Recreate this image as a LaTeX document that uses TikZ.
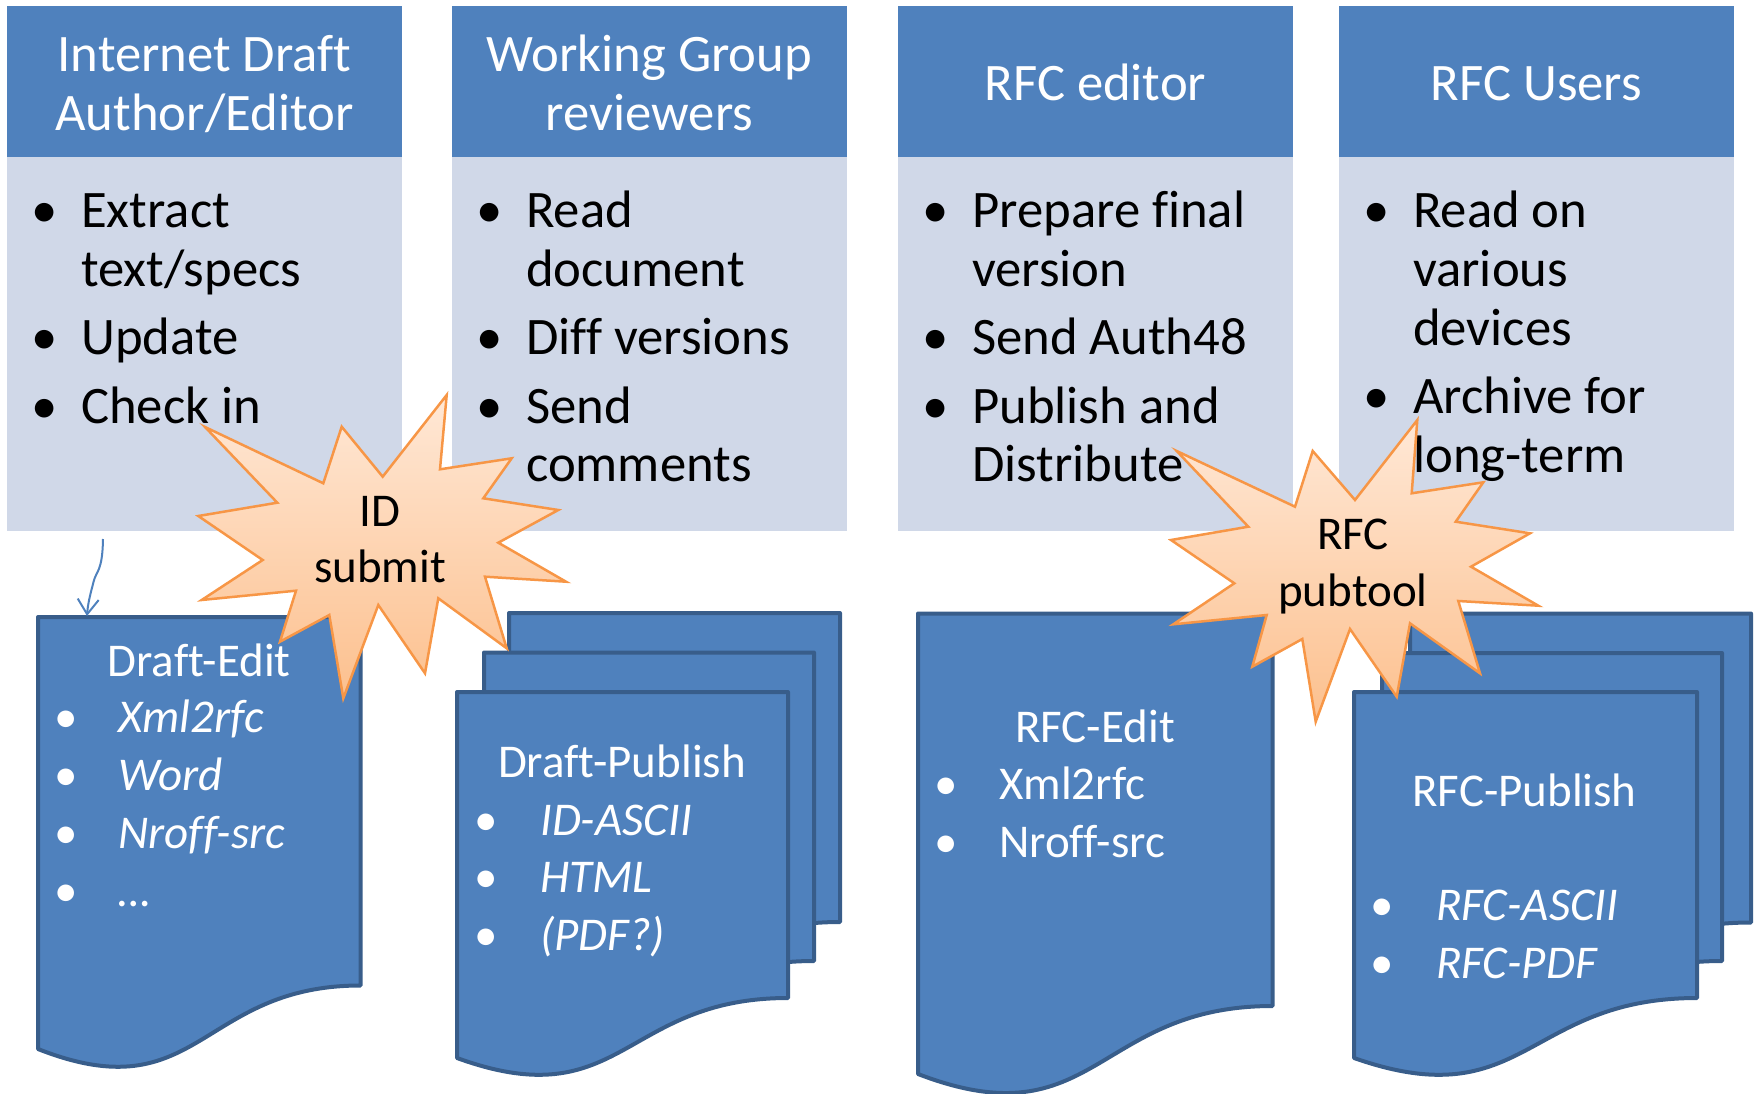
\documentclass[tikz,border=0pt]{standalone}
\usepackage{fontspec}
\setmainfont{Carlito}[Ligatures=NoCommon]
\usetikzlibrary{arrows.meta}
\definecolor{hdrblue}{RGB}{79,129,189}
\definecolor{bodyblue}{RGB}{208,216,232}
\definecolor{docedge}{RGB}{56,93,138}
\definecolor{startop}{RGB}{255,232,214}
\definecolor{starbot}{RGB}{252,192,142}
\definecolor{staredge}{RGB}{247,150,70}
\newcommand\myBig{\fontsize{52.7pt}{60pt}\selectfont}
\newcommand\myDoc{\fontsize{47pt}{56pt}\selectfont}
\newcommand\mydocpage[5]{%
  \path[docpg] (#1,#2) -- (#3,#2) -- (#3,#4)
    .. controls ({(#1+#3)/2},#4) and ({(#1+#3)/2},{#4+2.0*(#5-#4)}) .. (#1,#5) -- cycle;}
\begin{document}
\begin{tikzpicture}[x=1pt,y=-1pt,
  hdrbox/.style={fill=hdrblue,inner sep=0pt,anchor=north west,minimum width=395pt,minimum height=151pt},
  bodybox/.style={fill=bodyblue,inner sep=0pt,anchor=north west,minimum width=395pt,minimum height=374pt},
  hdrtext/.style={text=white,font=\myBig,anchor=base,inner sep=0pt},
  bodytext/.style={text=black,font=\myBig,anchor=base west,inner sep=0pt},
  bul/.style={font=\myBig,anchor=base,inner sep=0pt},
  docpg/.style={fill=hdrblue,draw=docedge,line width=4pt,line join=round},
  doctitle/.style={text=white,font=\myDoc,anchor=base,inner sep=0pt},
  doctext/.style={text=white,font=\myDoc,anchor=base west,inner sep=0pt},
  docbul/.style={text=white,font=\myDoc,anchor=base,inner sep=0pt},
  starsty/.style={top color=startop,bottom color=starbot,draw=staredge,line width=2.5pt,line join=miter},
  startext/.style={text=black,font=\myDoc,anchor=base,inner sep=0pt},
  arrsty/.style={draw=hdrblue,line width=2pt,-{Straight Barb[length=15pt,width=21pt]}}
]
\useasboundingbox (0,0) rectangle (1756,1094);

% columns
\node[hdrbox] (h1) at (7,6) {};
\node[hdrbox] (h2) at (452,6) {};
\node[hdrbox] (h3) at (898,6) {};
\node[hdrbox] (h4) at (1339,6) {};
\node[bodybox] (b1) at (7,157) {};
\node[bodybox] (b2) at (452,157) {};
\node[bodybox] (b3) at (898,157) {};
\node[bodybox] (b4) at (1339,157) {};

% headers
\node[hdrtext] (h1a) at (204.5,71.5) {Internet Draft};
\node[hdrtext] (h1b) at (204.5,130.5) {Author/Editor};
\node[hdrtext] (h2a) at (649.5,71.5) {Working Group};
\node[hdrtext] (h2b) at (649.5,130.5) {reviewers};
\node[hdrtext] (h3a) at (1095.5,100.5) {RFC editor};
\node[hdrtext] (h4a) at (1536.5,100.5) {RFC Users};

% column 1
\node[bul] (c1b1) at (45,228) {•};
\node[bodytext] (c1t1) at (81,228) {Extract};
\node[bodytext] (c1t1b) at (81,286.5) {text/specs};
\node[bul] (c1b2) at (45,354.5) {•};
\node[bodytext] (c1t2) at (81,354.5) {Update};
\node[bul] (c1b3) at (45,423) {•};
\node[bodytext] (c1t3) at (81,423) {Check in};

% column 2
\node[bul] (c2b1) at (490,228) {•};
\node[bodytext] (c2t1) at (526,228) {Read};
\node[bodytext] (c2t1b) at (526,286.5) {document};
\node[bul] (c2b2) at (490,354.5) {•};
\node[bodytext] (c2t2) at (526,354.5) {Diff versions};
\node[bul] (c2b3) at (490,423) {•};
\node[bodytext] (c2t3) at (526,423) {Send};
\node[bodytext] (c2t3b) at (526,481.5) {comments};

% column 3
\node[bul] (c3b1) at (936,228) {•};
\node[bodytext] (c3t1) at (972,228) {Prepare final};
\node[bodytext] (c3t1b) at (972,286.5) {version};
\node[bul] (c3b2) at (936,354.5) {•};
\node[bodytext] (c3t2) at (972,354.5) {Send Auth48};
\node[bul] (c3b3) at (936,423) {•};
\node[bodytext] (c3t3) at (972,423) {Publish and};
\node[bodytext] (c3t3b) at (972,481.5) {Distribute};

% column 4
\node[bul] (c4b1) at (1377,228) {•};
\node[bodytext] (c4t1) at (1413,228) {Read on};
\node[bodytext] (c4t1b) at (1413,286.5) {various};
\node[bodytext] (c4t1c) at (1413,345) {devices};
\node[bul] (c4b2) at (1377,413.5) {•};
\node[bodytext] (c4t2) at (1413,413.5) {Archive for};
\node[bodytext] (c4t2b) at (1413,472) {long-term};

% documents
\mydocpage{38}{617}{360.5}{985.5}{1049}
\mydocpage{509}{613}{840}{922}{982}
\mydocpage{484}{652.5}{814}{961}{1021}
\mydocpage{457}{692}{788}{998}{1058}
\mydocpage{918}{613.5}{1272.5}{1006}{1074}
\mydocpage{1410}{613.5}{1751}{922.5}{983}
\mydocpage{1382}{653}{1722}{961}{1021}
\mydocpage{1354}{692}{1697}{998}{1058}

% Draft-Edit text
\node[doctitle] (de) at (199,676) {Draft-Edit};
\node[docbul] (deb1) at (66.5,732.5) {•};
\node[doctext] (det1) at (118,732.5) {\itshape Xml2rfc};
\node[docbul] (deb2) at (66.5,790) {•};
\node[doctext] (det2) at (118,790) {\itshape Word};
\node[docbul] (deb3) at (66.5,848.5) {•};
\node[doctext] (det3) at (118,848.5) {\itshape Nroff-src};
\node[docbul] (deb4) at (66.5,906) {•};
\node[doctext] (det4) at (118,906) {\itshape …};

% Draft-Publish text
\node[doctitle] (dp) at (622,777) {Draft-Publish};
\node[docbul] (dpb1) at (486.5,835) {•};
\node[doctext] (dpt1) at (540,835) {\itshape ID-ASCII};
\node[docbul] (dpb2) at (486.5,892) {•};
\node[doctext] (dpt2) at (540,892) {\itshape HTML};
\node[docbul] (dpb3) at (486.5,950) {•};
\node[doctext] (dpt3) at (540,950) {\itshape (PDF?)};

% RFC-Edit text
\node[doctitle] (re) at (1095,742) {RFC-Edit};
\node[docbul] (reb1) at (946,799.5) {•};
\node[doctext] (ret1) at (999,799.5) {Xml2rfc};
\node[docbul] (reb2) at (946,857) {•};
\node[doctext] (ret2) at (999,857) {Nroff-src};

% RFC-Publish text
\node[doctitle] (rp) at (1524.5,806.5) {RFC-Publish};
\node[docbul] (rpb1) at (1382,920.5) {•};
\node[doctext] (rpt1) at (1436,920.5) {\itshape RFC-ASCII};
\node[docbul] (rpb2) at (1382,978.5) {•};
\node[doctext] (rpt2) at (1436,978.5) {\itshape RFC-PDF};

% star 1
\shadedraw[starsty] (205,427) -- (323.3,483.3) -- (341.7,426.7) -- (382.7,476.7)
  -- (446.7,395) -- (440,469.3) -- (511.7,458.3) -- (483.3,498.3) -- (558.3,510)
  -- (498.3,542.7) -- (566,581.7) -- (485,576.7) -- (506.7,648.3) -- (438.3,598.3)
  -- (425,673.3) -- (378.3,605) -- (343.3,698.3) -- (329.3,615) -- (280,641.7)
  -- (296,590.7) -- (201.7,600) -- (262.7,560) -- (198.3,516) -- (277.3,502.7) -- cycle;
\node[startext] (s1a) at (380,526) {ID};
\node[startext] (s1b) at (380,582.7) {submit};

% star 2
\shadedraw[starsty] (1176.7,451) -- (1295,506.7) -- (1312.7,451) -- (1355,500)
  -- (1417.3,420) -- (1411.7,493.3) -- (1483.3,482.3) -- (1455.7,521.7) -- (1530,533.3)
  -- (1471,566.7) -- (1538.3,605.7) -- (1458.3,601) -- (1480,673.3) -- (1410,623.3)
  -- (1396.7,696.7) -- (1350,629) -- (1315.7,721.7) -- (1302.3,639) -- (1252.3,666.7)
  -- (1266.7,615) -- (1173.3,624.3) -- (1234.3,583.3) -- (1171,540) -- (1248.3,526.7) -- cycle;
\node[startext] (s2a) at (1353,549.3) {RFC};
\node[startext] (s2b) at (1353,606) {pubtool};

% arrow
\coordinate (arrS) at (103,539);
\coordinate (arrE) at (87,616);
\draw[arrsty] (arrS) .. controls (102.5,572) and (96,571) .. (93.5,582)
  .. controls (91,592) and (88,602) .. (arrE);
\end{tikzpicture}
\end{document}
